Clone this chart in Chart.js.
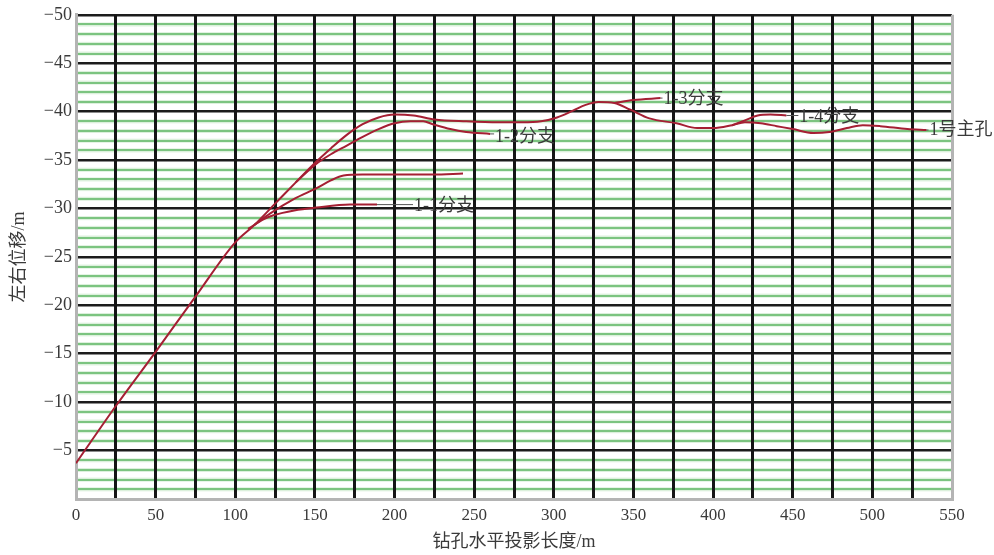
<!DOCTYPE html>
<html lang="zh">
  <head>
    <meta charset="utf-8" />
    <title>钻孔水平投影</title>
    <style>
      body { margin: 0; background: #fff; }
    </style>
  </head>
  <body>
    <canvas id="lienzo" width="994" height="555"></canvas>

    <script src="https://cdn.jsdelivr.net/npm/chart.js"></script>
    <script>
      // 1号主孔
      const mainX = [0, 25, 50, 75, 100, 112, 125, 138, 150, 160, 170, 180, 190, 200, 212, 225, 245, 265, 280, 292, 302, 312, 320, 328, 338, 348, 360, 377, 390, 400, 412, 420, 430, 440, 450, 463, 473, 484, 494, 505, 522, 534];
      const mainY = [-3.7, -9.6, -15.2, -20.9, -26.5, -28.3, -30.5, -32.7, -34.7, -36.2, -37.6, -38.7, -39.4, -39.7, -39.6, -39.2, -39.0, -38.9, -38.9, -39.0, -39.4, -40.1, -40.7, -41.0, -40.9, -40.2, -39.3, -38.8, -38.3, -38.3, -38.6, -38.9, -38.8, -38.5, -38.2, -37.8, -37.9, -38.3, -38.6, -38.5, -38.2, -38.1];
      // 1-1分支
      const b1X = [108, 118, 124, 137, 151, 172, 189];
      const b1Y = [-27.9, -28.9, -29.3, -29.8, -30.1, -30.4, -30.4];
      // 未标注分支
      const b0X = [112, 122, 137, 151, 160, 168, 180, 193, 210, 224, 243];
      const b0Y = [-28.3, -29.5, -31.0, -32.1, -32.9, -33.4, -33.5, -33.5, -33.5, -33.5, -33.6];
      // 1-2分支
      const b2X = [138, 150, 160, 170, 180, 190, 200, 210, 218, 224, 235, 245, 260];
      const b2Y = [-32.7, -34.5, -35.6, -36.5, -37.4, -38.2, -38.8, -39.0, -39.0, -38.7, -38.2, -37.9, -37.7];
      // 1-3分支
      const b3X = [338, 350, 367];
      const b3Y = [-40.9, -41.2, -41.4];
      // 1-4分支
      const b4X = [412, 420, 428, 436, 446];
      const b4Y = [-38.6, -39.1, -39.6, -39.7, -39.6];

      const xTicks = [0, 50, 100, 150, 200, 250, 300, 350, 400, 450, 500, 550];
      const yTicks = [-50, -45, -40, -35, -30, -25, -20, -15, -10, -5];

      const etiquetas = ["1号主孔", "1-1分支", "1-2分支", "1-3分支", "1-4分支"];

      function puntos(xs, ys) {
        return xs.map((x, i) => ({ x: x, y: ys[i] }));
      }

      function serie(xs, ys) {
        return {
          data: puntos(xs, ys),
          borderColor: "#a51f33",
          borderWidth: 2,
          pointRadius: 0,
          cubicInterpolationMode: "monotone",
          fill: false,
        };
      }

      const menos = (v) => (v < 0 ? "\u2212" + Math.abs(v) : String(v));

      // pale halo under the green minor grid lines
      const halo = {
        id: "halo",
        beforeDraw(chart) {
          const { ctx, chartArea: a, scales } = chart;
          ctx.save();
          ctx.fillStyle = "#dcf0dc";
          for (let v = -49; v < 0; v++) {
            if (v % 5 === 0) continue;
            const y = scales.y.getPixelForValue(v);
            ctx.fillRect(a.left, y - 2, a.right - a.left, 4);
          }
          ctx.restore();
        },
      };

      // leader lines + text at the end of each branch
      const rotulos = {
        id: "rotulos",
        afterDatasetsDraw(chart, args, opts) {
          const ctx = chart.ctx;
          ctx.save();
          ctx.font = "18px 'Liberation Serif', 'Noto Sans CJK SC', serif";
          ctx.fillStyle = "#3a3a3a";
          ctx.strokeStyle = "#555";
          ctx.lineWidth = 1;
          ctx.textBaseline = "middle";
          opts.items.forEach((it) => {
            const meta = chart.getDatasetMeta(it.ds);
            const p = meta.data[meta.data.length - 1];
            ctx.beginPath();
            ctx.moveTo(p.x, p.y);
            ctx.lineTo(p.x + it.lead, p.y);
            ctx.stroke();
            ctx.fillText(it.text, p.x + it.lead + 1, p.y + it.dy);
          });
          ctx.restore();
        },
      };

      const contexto = document.querySelector("#lienzo");
      new Chart(contexto, {
        type: "line",
        data: {
          datasets: [
            serie(mainX, mainY),
            serie(b1X, b1Y),
            serie(b0X, b0Y),
            serie(b2X, b2Y),
            serie(b3X, b3Y),
            serie(b4X, b4Y),
          ],
        },
        options: {
          responsive: false,
          animation: false,
          layout: { padding: { top: 14, right: 42, left: 0, bottom: 0 } },
          plugins: {
            legend: { display: false },
            tooltip: { enabled: false },
            rotulos: {
              items: [
                { ds: 1, text: etiquetas[1], lead: 36, dy: 2 },
                { ds: 3, text: etiquetas[2], lead: 4, dy: 3 },
                { ds: 4, text: etiquetas[3], lead: 2, dy: 1 },
                { ds: 5, text: etiquetas[4], lead: 12, dy: 2 },
                { ds: 0, text: etiquetas[0], lead: 2, dy: 0 },
              ],
            },
          },
          scales: {
            y: {
              type: "linear",
              min: -50,
              max: 0,
              reverse: true,
              afterFit: (s) => { s.width = 76; },
              ticks: {
                stepSize: 1,
                autoSkip: false,
                padding: 4,
                color: "#3a3a3a",
                font: { family: "'Liberation Serif', serif", size: 18 },
                callback: (v) => (yTicks.includes(v) ? menos(v) : ""),
              },
              grid: {
                drawTicks: false,
                color: (c) => {
                  const v = c.tick.value;
                  if (v === 0) return "#b4b4b4";
                  return v % 5 === 0 ? "#1c1c1c" : "#7cc480";
                },
                lineWidth: (c) => (c.tick.value % 5 === 0 ? 2.5 : 2),
              },
              border: { color: "#b4b4b4", width: 3 },
              title: {
                display: true,
                text: "左右位移/m",
                color: "#3a3a3a",
                font: { family: "'Liberation Serif', 'Noto Sans CJK SC', serif", size: 18 },
                padding: { top: 8, bottom: 0 },
              },
            },
            x: {
              type: "linear",
              min: 0,
              max: 550,
              afterFit: (s) => { s.height = 56; },
              ticks: {
                stepSize: 25,
                autoSkip: false,
                maxRotation: 0,
                padding: 6,
                color: "#3a3a3a",
                font: { family: "'Liberation Serif', serif", size: 17 },
                callback: (v) => (xTicks.includes(v) ? String(v) : ""),
              },
              grid: {
                drawTicks: false,
                color: (c) => (c.tick.value === 0 || c.tick.value === 550 ? "#b4b4b4" : "#151515"),
                lineWidth: 3,
              },
              border: { color: "#b4b4b4", width: 3 },
              title: {
                display: true,
                text: "钻孔水平投影长度/m",
                color: "#3a3a3a",
                font: { family: "'Liberation Serif', 'Noto Sans CJK SC', serif", size: 18 },
                padding: { top: 0, bottom: 2 },
              },
            },
          },
        },
        plugins: [halo, rotulos],
      });
    </script>
  </body>
</html>
